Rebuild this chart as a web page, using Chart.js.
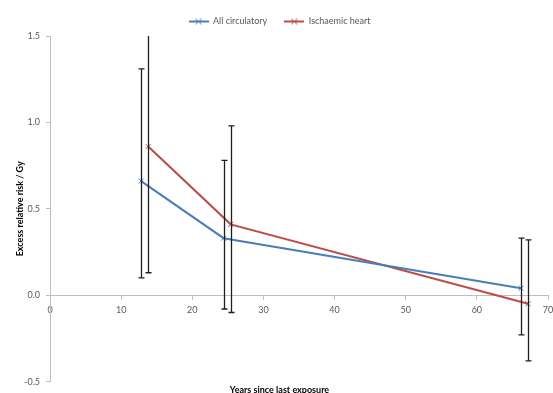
<!DOCTYPE html>
<html>
<head>
<meta charset="utf-8">
<script src="https://cdn.jsdelivr.net/npm/chart.js@4/dist/chart.umd.min.js"></script>
<style>
html,body{margin:0;padding:0;background:#fff;}
#wrap{width:553px;height:393px;position:relative;}
</style>
</head>
<body>
<div id="wrap"><canvas id="c" width="553" height="393"></canvas></div>
<script>
// ---- data ----
const seriesNames = ['All circulatory', 'Ischaemic heart'];
const yearsAll = [12.8, 24.4, 66.2];
const errAll = [0.66, 0.33, 0.04];
const errAllLow = [0.10, -0.08, -0.23];
const errAllHigh = [1.31, 0.78, 0.33];
const yearsIhd = [13.8, 25.4, 67.2];
const errIhd = [0.86, 0.41, -0.05];
const errIhdLow = [0.13, -0.10, -0.38];
const errIhdHigh = [1.65, 0.98, 0.32];
const xTicks = [0, 10, 20, 30, 40, 50, 60, 70];
const yTicks = [-0.5, 0.0, 0.5, 1.0, 1.5];

const BLUE = '#4A7EBB';
const RED = '#BE4B48';
const AXIS = '#BFBFBF';
const TXT = '#595959';
const FONT = 'Lato, "Liberation Sans", sans-serif';

function legendIcon(color) {
  const cv = document.createElement('canvas');
  cv.width = 20; cv.height = 8;
  const g = cv.getContext('2d');
  g.strokeStyle = color; g.lineWidth = 2;
  g.beginPath(); g.moveTo(0, 4); g.lineTo(20, 4); g.stroke();
  g.lineWidth = 1;
  g.beginPath(); g.moveTo(7, 1); g.lineTo(13, 7); g.moveTo(13, 1); g.lineTo(7, 7); g.stroke();
  return cv;
}

const errorBars = {
  id: 'errorBars',
  afterDatasetsDraw(chart) {
    const ctx = chart.ctx, xs = chart.scales.x, ys = chart.scales.y, a = chart.chartArea;
    ctx.save();
    ctx.beginPath(); ctx.rect(a.left, a.top, a.right - a.left, a.bottom - a.top); ctx.clip();
    ctx.strokeStyle = '#1E1E1E'; ctx.lineWidth = 1.3;
    chart.data.datasets.forEach(ds => {
      ds.data.forEach((p, i) => {
        const x = Math.round(xs.getPixelForValue(p.x)) + 0.5;
        const y1 = ys.getPixelForValue(ds.errLow[i]);
        const y2 = ys.getPixelForValue(ds.errHigh[i]);
        ctx.beginPath();
        ctx.moveTo(x, y1); ctx.lineTo(x, y2);
        ctx.moveTo(x - 3, y1); ctx.lineTo(x + 3, y1);
        ctx.moveTo(x - 3, y2); ctx.lineTo(x + 3, y2);
        ctx.stroke();
      });
    });
    ctx.restore();
  }
};

const ds = [
  { label: seriesNames[0], x: yearsAll, y: errAll, lo: errAllLow, hi: errAllHigh, c: BLUE },
  { label: seriesNames[1], x: yearsIhd, y: errIhd, lo: errIhdLow, hi: errIhdHigh, c: RED }
].map(s => ({
  label: s.label,
  data: s.x.map((v, i) => ({ x: v, y: s.y[i] })),
  errLow: s.lo, errHigh: s.hi,
  borderColor: s.c, backgroundColor: s.c,
  borderWidth: 2, showLine: true, tension: 0,
  pointStyle: 'crossRot', pointRadius: 3.5, pointBorderWidth: 1,
  legendIcon: legendIcon(s.c)
}));

new Chart(document.getElementById('c'), {
  type: 'scatter',
  data: { datasets: ds },
  options: {
    responsive: false, animation: false, devicePixelRatio: 1,
    layout: { padding: { left: 5, right: -1, top: 0, bottom: -7 } },
    plugins: {
      legend: {
        position: 'top',
        labels: {
          font: { family: FONT, size: 9 }, color: TXT, usePointStyle: true,
          pointStyleWidth: 20, boxHeight: 8,
          padding: 17,
          generateLabels(chart) {
            return chart.data.datasets.map((d, i) => ({
              text: d.label, pointStyle: d.legendIcon, datasetIndex: i,
              fillStyle: d.borderColor, strokeStyle: d.borderColor, lineWidth: 0, fontColor: TXT
            }));
          }
        }
      },
      title: {
        display: true, position: 'bottom', text: 'Years since last exposure',
        font: { family: FONT, size: 9, weight: 'bold' }, color: '#000',
        padding: { top: 3, bottom: 0 }
      },
      tooltip: { enabled: false }
    },
    scales: {
      x: {
        type: 'linear', min: 0, max: 70, position: { y: 0 },
        afterBuildTicks(s) { s.ticks = xTicks.map(v => ({ value: v })); },
        afterFit(s) { s.paddingLeft = 0; s.paddingRight = 0; },
        grid: { display: true, drawOnChartArea: false, drawTicks: true, tickLength: 4, color: AXIS },
        border: { display: true, color: AXIS, width: 1 },
        ticks: { font: { family: FONT, size: 9 }, color: TXT, padding: 5, maxRotation: 0 }
      },
      y: {
        type: 'linear', min: -0.5, max: 1.5,
        afterBuildTicks(s) { s.ticks = yTicks.map(v => ({ value: v })); },
        afterFit(s) { s.width = 45; },
        grid: { display: true, drawOnChartArea: false, drawTicks: true, tickLength: 4, color: AXIS },
        border: { display: true, color: AXIS, width: 1 },
        ticks: { font: { family: FONT, size: 9 }, color: TXT, padding: 6,
          callback: v => Number(v).toFixed(1) },
        title: { display: true, text: 'Excess relative risk / Gy',
          font: { family: FONT, size: 9, weight: 'bold' }, color: '#000', padding: { top: 10, bottom: 0 } }
      }
    }
  },
  plugins: [errorBars]
});
</script>
</body>
</html>
